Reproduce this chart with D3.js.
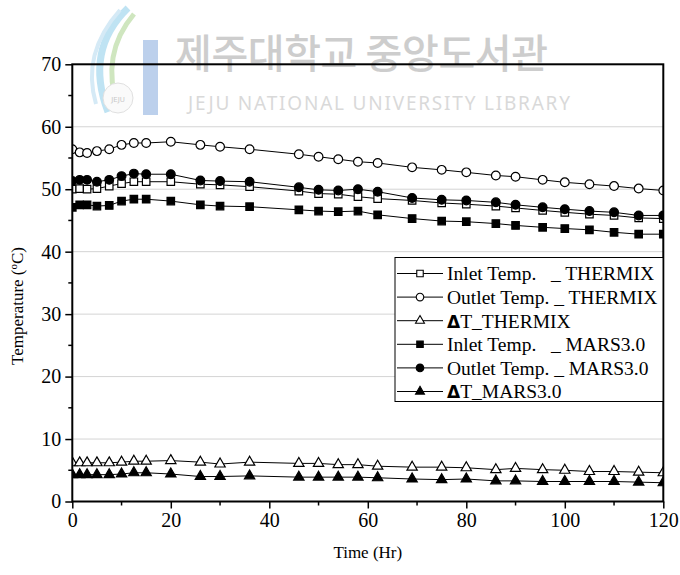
<!DOCTYPE html>
<html>
<head>
<meta charset="utf-8">
<script src="https://cdn.jsdelivr.net/npm/d3@7"></script>
<style>
body { margin:0; background:#fff; }
text { font-family: "Liberation Serif", "Times New Roman", serif; fill:#000; }
</style>
</head>
<body>
<svg id="chart" width="680" height="575"></svg>
<script>

// time (hr) of every sample
var times = [0, 1.5, 3, 5, 7.5, 10, 12.5, 15, 20, 26, 30, 36, 46, 50, 54, 58, 62, 69, 75, 80, 86, 90, 95.5, 100, 105, 110, 115, 120];

var inletThermix  = [50.0, 50.1, 50.0, 50.1, 50.5, 50.9, 51.2, 51.2, 51.2, 50.8, 50.7, 50.4, 49.7, 49.3, 49.2, 48.8, 48.5, 48.2, 47.8, 47.6, 47.3, 47.0, 46.6, 46.3, 46.0, 45.8, 45.4, 45.3];
var outletThermix = [56.4, 55.9, 55.8, 56.1, 56.4, 57.1, 57.4, 57.4, 57.6, 57.1, 56.8, 56.4, 55.6, 55.2, 54.8, 54.4, 54.2, 53.5, 53.1, 52.7, 52.2, 52.0, 51.5, 51.1, 50.8, 50.5, 50.1, 49.8];
var dtThermix     = [6.2, 6.2, 6.2, 6.2, 6.2, 6.3, 6.45, 6.45, 6.55, 6.3, 6.0, 6.3, 6.1, 6.1, 5.9, 5.9, 5.65, 5.5, 5.5, 5.4, 5.1, 5.3, 5.1, 5.0, 4.8, 4.8, 4.7, 4.6];
var inletMars     = [47.1, 47.5, 47.5, 47.3, 47.4, 48.1, 48.4, 48.4, 48.1, 47.5, 47.3, 47.2, 46.7, 46.5, 46.4, 46.5, 45.9, 45.3, 44.9, 44.8, 44.5, 44.2, 43.9, 43.7, 43.5, 43.1, 42.8, 42.8];
var outletMars    = [51.3, 51.5, 51.5, 51.2, 51.5, 52.1, 52.5, 52.4, 52.4, 51.4, 51.3, 51.2, 50.3, 49.9, 49.8, 50.0, 49.6, 48.6, 48.3, 48.2, 47.9, 47.5, 47.1, 46.8, 46.5, 46.3, 45.8, 45.8];
var dtMars        = [4.3, 4.3, 4.3, 4.3, 4.3, 4.4, 4.6, 4.6, 4.4, 4.0, 4.0, 4.1, 3.9, 3.9, 3.9, 3.9, 3.8, 3.6, 3.5, 3.6, 3.3, 3.3, 3.2, 3.2, 3.2, 3.2, 3.1, 3.0];

var xTicks = [0, 20, 40, 60, 80, 100, 120];
var xMinor = [10, 30, 50, 70, 90, 110];
var yTicks = [0, 10, 20, 30, 40, 50, 60, 70];
var yMinor = [5, 15, 25, 35, 45, 55, 65];
var gridLines = [10, 20, 30, 40, 50, 60];

var legendLabels = ["Inlet Temp.   _ THERMIX", "Outlet Temp. _ THERMIX", "T_THERMIX",
                    "Inlet Temp.   _ MARS3.0", "Outlet Temp. _ MARS3.0", "T_MARS3.0"];

/**
 * series in drawing order (later ones sit on top)
 */
var series = [
	{ values: inletThermix,  shape: "square",   filled: false },
	{ values: outletThermix, shape: "circle",   filled: false },
	{ values: dtThermix,     shape: "triangle", filled: false },
	{ values: inletMars,     shape: "square",   filled: true },
	{ values: outletMars,    shape: "circle",   filled: true },
	{ values: dtMars,        shape: "triangle", filled: true }
];
series.forEach(function (s, i) { s.label = legendLabels[i]; });

var svg = d3.select("#chart");

var plot = { left: 72.3, right: 663.3, top: 64.3, bottom: 501.5 };

var x = d3.scaleLinear().domain([0, 120]).range([plot.left, plot.right]);
var y = d3.scaleLinear().domain([0, 70]).range([plot.bottom, plot.top]);

var symbolMap = {
	square: { type: d3.symbolSquare, size: 56 },
	circle: { type: d3.symbolCircle, size: 60 },
	triangle: { type: d3.symbolTriangle, size: 46 }
};

/**
 *  Faint library watermark behind the chart
 */
var wm = svg.append("g").attr("class", "watermark");
wm.append("path")
	.attr("d", "M128,8 C100,35 92,70 108,112")
	.attr("fill", "none").attr("stroke", "#bfe3f3").attr("stroke-width", 7);
wm.append("path")
	.attr("d", "M134,14 C112,40 106,72 118,108")
	.attr("fill", "none").attr("stroke", "#cfe6bf").attr("stroke-width", 5);
wm.append("path")
	.attr("d", "M120,10 C95,38 86,70 96,104")
	.attr("fill", "none").attr("stroke", "#d5eaf6").attr("stroke-width", 4);
wm.append("circle")
	.attr("cx", 118).attr("cy", 98).attr("r", 15)
	.attr("fill", "#fafafa").attr("stroke", "#e0e0e0");
wm.append("text")
	.attr("x", 118).attr("y", 102).attr("text-anchor", "middle")
	.style("font-family", "DejaVu Sans").style("font-size", "7px").style("fill", "#c8c8c8")
	.text("JEJU");
wm.append("rect")
	.attr("x", 143).attr("y", 40).attr("width", 15).attr("height", 75)
	.attr("fill", "#bcd0ec");
wm.append("text")
	.attr("x", 175).attr("y", 68)
	.attr("textLength", 373)
	.style("font-family", "'Noto Sans CJK KR'").style("font-size", "40px").style("font-weight", 500)
	.style("fill", "#cdcdcd")
	.text("제주대학교 중앙도서관");
wm.append("text")
	.attr("x", 188).attr("y", 110)
	.attr("textLength", 382)
	.style("font-family", "'Noto Sans'").style("font-size", "19px")
	.style("fill", "#d9d9d9")
	.text("JEJU NATIONAL UNIVERSITY LIBRARY");

/**
 *  Horizontal grid lines
 */
svg.append("g").selectAll("line").data(gridLines).enter().append("line")
	.attr("x1", plot.left).attr("x2", plot.right)
	.attr("y1", function (d) { return y(d); })
	.attr("y2", function (d) { return y(d); })
	.attr("stroke", "#d4d4d4").attr("stroke-width", 1);

// clip the series to the plot frame
svg.append("defs").append("clipPath").attr("id", "plotClip")
	.append("rect")
	.attr("x", plot.left).attr("y", plot.top)
	.attr("width", plot.right - plot.left).attr("height", plot.bottom - plot.top);

var seriesLayer = svg.append("g").attr("clip-path", "url(#plotClip)");

var line = d3.line()
	.x(function (d) { return x(d[0]); })
	.y(function (d) { return y(d[1]); });

series.forEach(function (s) {
	var pts = times.map(function (t, i) { return [t, s.values[i]]; });
	var g = seriesLayer.append("g");
	g.append("path")
		.attr("d", line(pts))
		.attr("fill", "none").attr("stroke", "#000").attr("stroke-width", 1);
	var sym = d3.symbol().type(symbolMap[s.shape].type).size(symbolMap[s.shape].size);
	g.selectAll("path.mark").data(pts).enter().append("path")
		.attr("class", "mark")
		.attr("d", sym)
		.attr("transform", function (d) { return "translate(" + x(d[0]) + "," + y(d[1]) + ")"; })
		.attr("fill", s.filled ? "#000" : "#fff")
		.attr("stroke", "#000").attr("stroke-width", 1.2);
});

/**
 *  Axes: bottom and left with outward ticks, frame on top and right
 */
var xAxis = d3.axisBottom(x).tickValues(xTicks).tickSize(7).tickPadding(4).tickFormat(d3.format("d"));
var gx = svg.append("g").attr("transform", "translate(0," + plot.bottom + ")").call(xAxis);
gx.selectAll(".tick line").attr("stroke-width", 1.5);
gx.selectAll("text").style("font-family", "Liberation Serif").style("font-size", "20px");
gx.select(".domain").remove();
gx.selectAll("line.minor").data(xMinor).enter().append("line")
	.attr("class", "minor")
	.attr("x1", function (d) { return x(d); }).attr("x2", function (d) { return x(d); })
	.attr("y1", 0).attr("y2", 4).attr("stroke", "#000").attr("stroke-width", 1.5);

var yAxis = d3.axisLeft(y).tickValues(yTicks).tickSize(7).tickPadding(4).tickFormat(d3.format("d"));
var gy = svg.append("g").attr("transform", "translate(" + plot.left + ",0)").call(yAxis);
gy.selectAll(".tick line").attr("stroke-width", 1.5);
gy.selectAll("text").style("font-family", "Liberation Serif").style("font-size", "20px");
gy.select(".domain").remove();
gy.selectAll("line.minor").data(yMinor).enter().append("line")
	.attr("class", "minor")
	.attr("y1", function (d) { return y(d); }).attr("y2", function (d) { return y(d); })
	.attr("x1", 0).attr("x2", -4).attr("stroke", "#000").attr("stroke-width", 1.5);

svg.append("rect")
	.attr("x", plot.left).attr("y", plot.top)
	.attr("width", plot.right - plot.left).attr("height", plot.bottom - plot.top)
	.attr("fill", "none").attr("stroke", "#000").attr("stroke-width", 2);

/**
 *  Axis titles
 */
svg.append("text")
	.attr("x", (plot.left + plot.right) / 2).attr("y", 558)
	.attr("text-anchor", "middle")
	.style("font-size", "17px")
	.text("Time (Hr)");

var yTitle = svg.append("text")
	.attr("transform", "translate(23,306) rotate(-90)")
	.attr("text-anchor", "middle")
	.style("font-size", "17px");
yTitle.append("tspan").text("Temperature (");
yTitle.append("tspan").attr("dy", -6).style("font-size", "11px").text("o");
yTitle.append("tspan").attr("dy", 6).text("C)");

/**
 *  Legend box
 */
var legend = { x: 395, y: 257.5, w: 268, h: 144, row: 23.6 };
var lg = svg.append("g");
lg.append("rect")
	.attr("x", legend.x).attr("y", legend.y).attr("width", legend.w).attr("height", legend.h)
	.attr("fill", "#fff").attr("stroke", "#000").attr("stroke-width", 1);

series.forEach(function (s, i) {
	var cy = legend.y + 16 + i * legend.row;
	lg.append("line")
		.attr("x1", legend.x + 2).attr("x2", legend.x + 48)
		.attr("y1", cy).attr("y2", cy)
		.attr("stroke", "#000").attr("stroke-width", 1);
	var sym = d3.symbol().type(symbolMap[s.shape].type).size(symbolMap[s.shape].size * 0.75);
	lg.append("path")
		.attr("d", sym)
		.attr("transform", "translate(" + (legend.x + 25) + "," + cy + ")")
		.attr("fill", s.filled ? "#000" : "#fff")
		.attr("stroke", "#000").attr("stroke-width", 1.1);
	var t = lg.append("text")
		.attr("x", legend.x + 52).attr("y", cy).attr("dy", "0.35em")
		.style("font-size", "19.5px").style("white-space", "pre");
	if (s.shape === "triangle") {
		t.append("tspan").style("font-family", "DejaVu Sans").style("font-weight", "bold").style("font-size", "17px").text("\u0394");
	}
	t.append("tspan").text(s.label);
});

</script>
</body>
</html>
